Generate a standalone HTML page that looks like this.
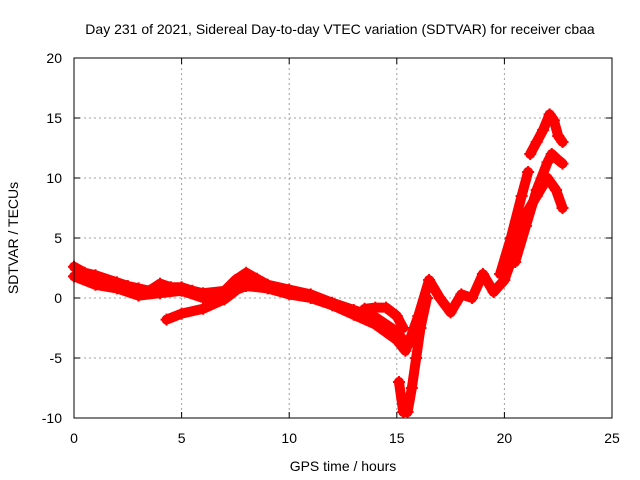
<!DOCTYPE html>
<html><head><meta charset="utf-8"><style>
body{margin:0;background:#fff;}
svg{display:block;font-family:"Liberation Sans",sans-serif;}
</style></head><body>
<svg id="c" width="640" height="480">
<text x="340" y="34" font-size="14" text-anchor="middle">Day 231 of 2021, Sidereal Day-to-day VTEC variation (SDTVAR) for receiver cbaa</text>
<text x="343" y="471" font-size="14" text-anchor="middle">GPS time / hours</text>
<text x="18" y="238" font-size="14" text-anchor="middle" transform="rotate(-90 18 238)">SDTVAR / TECUs</text>
<g id="grid"></g><g id="marks"></g>
<rect x="74" y="58" width="538" height="360" fill="none" stroke="#000"/>
</svg>
<script>
const xTicks=[0,5,10,15,20,25];
const yTicks=[-10,-5,0,5,10,15,20];
const s1=[[0,2.6],[0.5,2.1],[1,1.9],[2,1.3],[2.5,1],[3,0.8],[3.5,0.6],[4,1.2],[4.5,0.9],[5,0.9],[5.5,0.6],[6,0.4],[7,0.6],[7.5,1.5],[8,2.1],[8.5,1.6],[9,1.1],[10,0.7],[11,0.3],[12,-0.4],[13,-1],[14,-1.6],[15,-2.8],[15.5,-4],[16,-1.5],[16.5,1.5],[17,0],[17.5,-1.2],[18,0.3],[18.5,0],[19,2],[19.5,0.5],[20,1.5],[20.5,4],[21,7],[21.5,8.5],[22,10],[22.4,9],[22.7,7.5]];
const s2=[[0,1.8],[1,1.1],[2,0.8],[3,0.2],[4,0.4],[5,0.6],[6,0],[7,0.3],[8,1],[9,0.8],[10,0.3],[11,0],[12,-0.6],[13,-1.4],[14,-2.2],[15,-3.5],[15.4,-4.4]];
const s3=[[4.3,-1.8],[5,-1.3],[6,-0.9],[7,-0.1],[7.5,0.6],[8,1.4]];
const s4=[[13.5,-0.9],[14,-0.8],[14.5,-0.8],[15,-1.5],[15.3,-2.5]];
const s5=[[15.1,-7],[15.3,-9.5],[15.5,-9.5],[15.7,-7.5],[15.9,-5],[16.1,-2.5],[16.4,0]];
const s6=[[19.8,2],[20.3,5],[20.8,8.5],[21.1,10.5]];
const s7=[[20.5,3],[21,6],[21.5,9],[22,11.3],[22.2,12],[22.5,11.5],[22.7,11.2]];
const s8=[[21.2,12],[21.5,13],[21.8,14],[22.1,15.3],[22.3,14.8],[22.5,13.5],[22.7,13]];
const series=[s1,s2,s3,s4,s5,s6,s7,s8];
const X=v=>74+v*538/25, Y=v=>418-(v+10)*12;
const NS="http://www.w3.org/2000/svg";
const g=document.getElementById('grid'),m=document.getElementById('marks');
function mk(t,a,p){const e=document.createElementNS(NS,t);for(const k in a)e.setAttribute(k,a[k]);p.appendChild(e);return e;}
xTicks.forEach(t=>{const x=X(t);
 if(t>0&&t<25){const l=mk('line',{x1:x,x2:x,y1:58,y2:418,stroke:'#a0a0a0','stroke-dasharray':'2,3'},g);
 
 }
 mk('line',{x1:x,x2:x,y1:418,y2:412,stroke:'#000'},g);mk('line',{x1:x,x2:x,y1:58,y2:64,stroke:'#000'},g);
 const tx=mk('text',{x:x,y:443,'font-size':14,'text-anchor':'middle'},g);tx.textContent=t;
 
 });
yTicks.forEach(t=>{const y=Y(t);
 if(t>-10&&t<20){const l=mk('line',{x1:74,x2:612,y1:y,y2:y,stroke:'#a0a0a0','stroke-dasharray':'2,3'},g);
 
 }
 mk('line',{x1:74,x2:80,y1:y,y2:y,stroke:'#000'},g);mk('line',{x1:612,x2:606,y1:y,y2:y,stroke:'#000'},g);
 const tx=mk('text',{x:62,y:y+5,'font-size':14,'text-anchor':'end'},g);tx.textContent=t;
 
 });
series.forEach((s,i)=>{
 const pl=mk('polyline',{points:s.map(p=>X(p[0])+','+Y(p[1])).join(' '),fill:'none',stroke:'#f00','stroke-width':10,'stroke-linejoin':'round','stroke-linecap':'round'},m);
 
 
 s.forEach(p=>{const x=X(p[0]),y=Y(p[1]);
  const c=mk('path',{d:`M${x-6},${y}H${x+6}M${x},${y-6}V${y+6}`,stroke:'#f00','stroke-width':2},m);
  
  });
});
</script>
</body></html>
